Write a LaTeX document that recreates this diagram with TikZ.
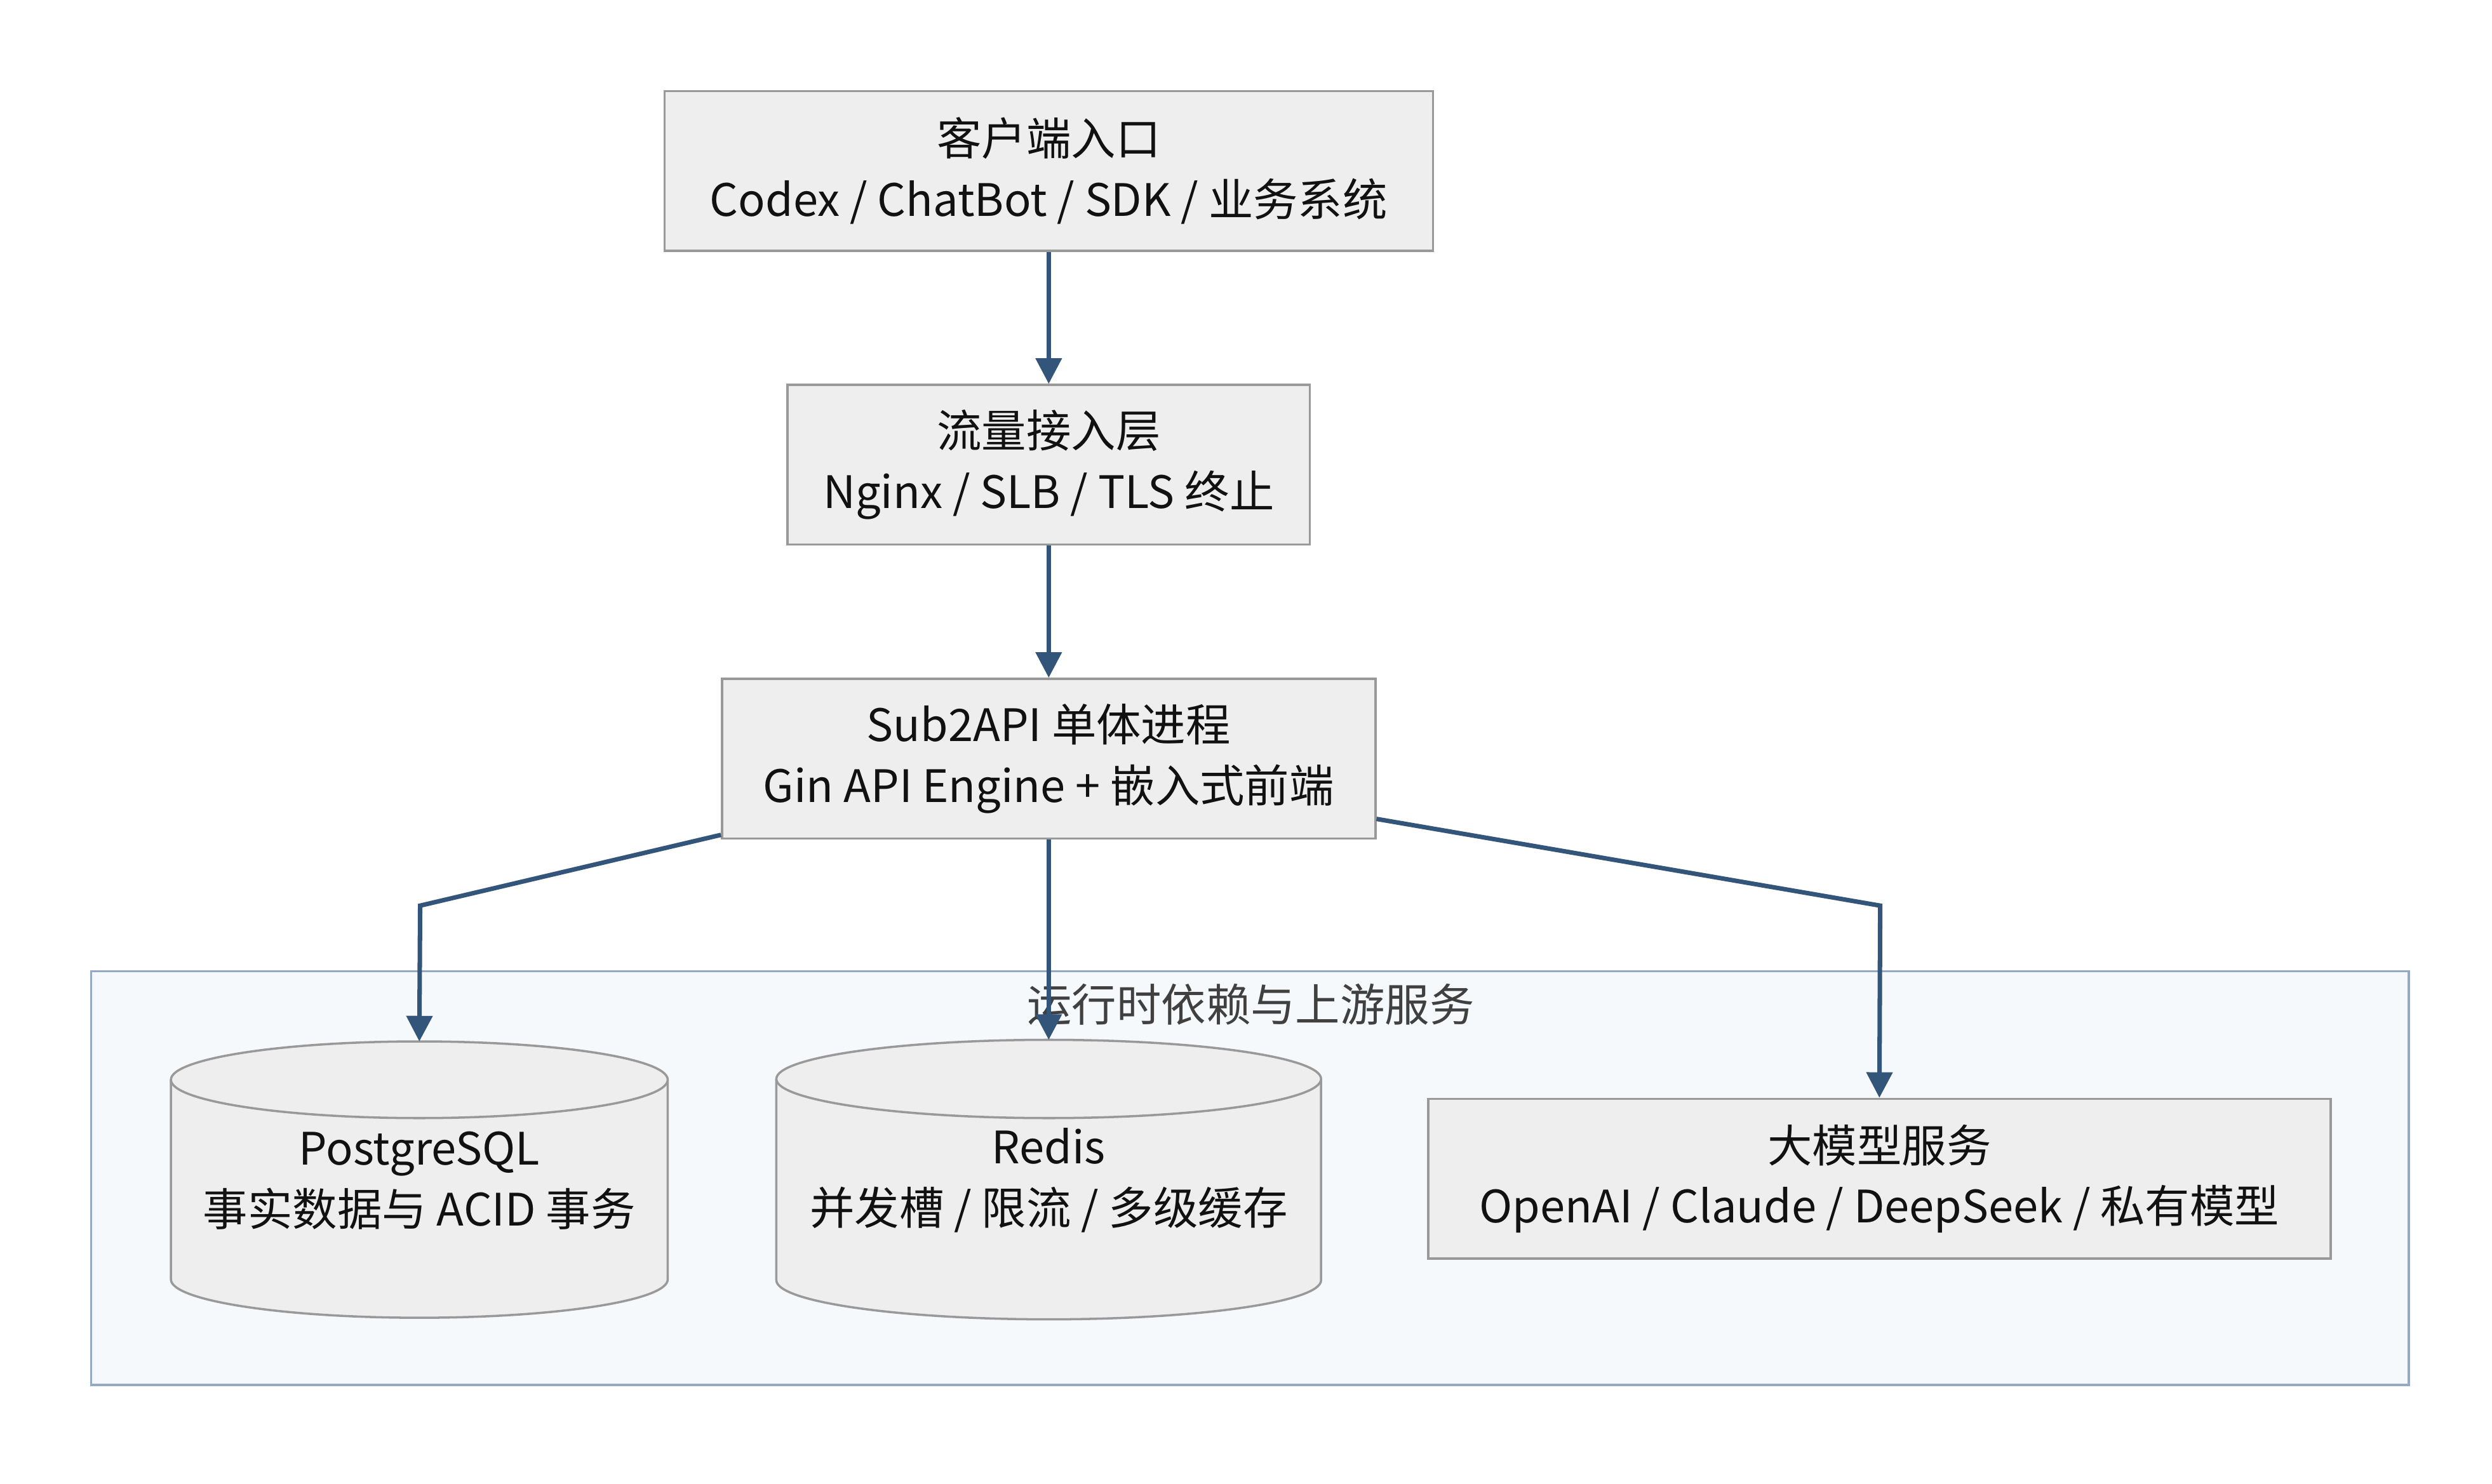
\documentclass[tikz,border=0pt]{standalone}
\usepackage{fontspec}
\setmainfont{Noto Sans CJK SC}
\usetikzlibrary{arrows.meta}
\definecolor{boxfill}{HTML}{EEEEEE}
\definecolor{boxline}{HTML}{999999}
\definecolor{arr}{HTML}{34557A}
\definecolor{grpfill}{HTML}{F6F9FC}
\definecolor{grpline}{HTML}{93A9C6}
\definecolor{txt}{HTML}{111111}
\tikzset{
  box/.style={draw=boxline,fill=boxfill,line width=0.7pt,inner sep=0pt,align=center,font=\fontsize{14pt}{19pt}\selectfont,text=txt},
  conn/.style={draw=arr,line width=1.4pt,-{Triangle[length=8pt,width=8pt]}},
  cyl/.style={draw=boxline,fill=boxfill,line width=0.7pt},
  lbl/.style={align=center,font=\fontsize{14pt}{19pt}\selectfont,text=txt}
}
\begin{document}
\begin{tikzpicture}[x=0.5pt,y=-0.5pt]
\useasboundingbox (0,0) rectangle (1560,929);
\fill[white] (0,0) rectangle (1560,929);
% group
\draw[draw=grpline,fill=grpfill,line width=0.7pt] (57,608) rectangle (1508,867);
\node[lbl,text=black!75] (glabel) at (783,629) {运行时依赖与上游服务};
% boxes
\node[box,minimum width=240.5pt,minimum height=50pt] (client) at (656.5,107) {客户端入口\\Codex / ChatBot / SDK / 业务系统};
\node[box,minimum width=163.5pt,minimum height=50pt] (traffic) at (656.5,291) {流量接入层\\Nginx / SLB / TLS 终止};
\node[box,minimum width=204.5pt,minimum height=50pt] (sub) at (656.5,475) {Sub2API 单体进程\\Gin API Engine + 嵌入式前端};
\node[box,minimum width=282.5pt,minimum height=50pt] (llm) at (1176.5,738) {大模型服务\\OpenAI / Claude / DeepSeek / 私有模型};
% cylinders
\draw[cyl] (107,676) -- (107,801) arc[start angle=180,end angle=0,x radius=155.5,y radius=24] -- (418,676);
\draw[cyl] (262.5,676) ellipse [x radius=155.5,y radius=24];
\node[lbl] (pg) at (262.5,739) {PostgreSQL\\事实数据与 ACID 事务};
\coordinate (pgtop) at (262.5,652);
\draw[cyl] (486,675.5) -- (486,801.5) arc[start angle=180,end angle=0,x radius=170.5,y radius=24.5] -- (827,675.5);
\draw[cyl] (656.5,675.5) ellipse [x radius=170.5,y radius=24.5];
\node[lbl] (redis) at (656.5,739) {Redis\\并发槽 / 限流 / 多级缓存};
\coordinate (redistop) at (656.5,651);
% connectors
\draw[conn] (client.south) -- (traffic.north);
\draw[conn] (traffic.south) -- (sub.north);
\draw[conn] (sub.south west) ++(0,-3) -- (263,567) -- (pgtop);
\draw[conn] (sub.south) -- (redistop);
\draw[conn] (sub.south east) ++(0,-13) -- (1177,567) -- (llm.north);
\end{tikzpicture}
\end{document}
